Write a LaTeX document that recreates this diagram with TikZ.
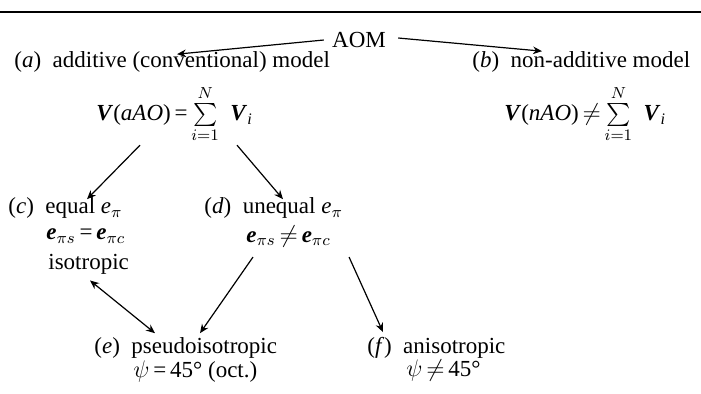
\documentclass[tikz,border=0pt]{standalone}
\usepackage{amsmath}
\usepackage{amssymb}
\usepackage{fontspec}
\setmainfont{Liberation Serif}
\usepackage{tikz}
\usetikzlibrary{positioning, arrows.meta, calc}

\newcommand{\bv}{\textbf{\textit{V}}}
\newcommand{\be}{\textbf{\textit{e}}}

\begin{document}
\begin{tikzpicture}[x=0.5pt, y=-0.5pt, font=\fontsize{11.5}{14}\selectfont,
    every node/.style={inner sep=1pt},
    lbl/.style={anchor=west},
    link/.style={-{Stealth[length=4.5pt, width=3.8pt]}, line width=0.6pt}]
    \useasboundingbox (0,0) rectangle (701,393);
    \draw[line width=0.9pt] (0,12) -- (701,12);
    \node (aom) at (359,40) {AOM};
    \node[lbl] (add) at (12,62) {(\textit{a})\enspace additive (conventional) model};
    \node[lbl] (nadd) at (470,62) {(\textit{b})\enspace non-additive model};
    \node[lbl] (vaao) at (94,114) {\bv(\textit{aAO})\,=\,$\sum\limits_{i=1}^{N}$\enspace\bv\textsubscript{\textit{i}}};
    \node[lbl] (vnao) at (502,114) {\bv(\textit{nAO})\,$\neq$\,$\sum\limits_{i=1}^{N}$\enspace\bv\textsubscript{\textit{i}}};
    \node[lbl] (eqc) at (6,208) {(\textit{c})\enspace equal \textit{e}$_{\pi}$};
    \node[lbl] (eqc2) at (44,236) {\be$_{\pi s}$\,=\,\be$_{\pi c}$};
    \node[lbl] (iso) at (46,264) {isotropic};
    \node[lbl] (uneqd) at (202,208) {(\textit{d})\enspace unequal \textit{e}$_{\pi}$};
    \node[lbl] (uneqd2) at (244,236) {\be$_{\pi s}$\,$\neq$\,\be$_{\pi c}$};
    \node[lbl] (pse) at (92,348) {(\textit{e})\enspace pseudoisotropic};
    \node[lbl] (pse2) at (131,372) {$\psi$\,=\,45° (oct.)};
    \node[lbl] (ani) at (365,348) {(\textit{f})\enspace anisotropic};
    \node[lbl] (ani2) at (404,370) {$\psi$\,$\neq$\,45°};
    \draw[link] ($(aom.west)+(-6,0)$) -- ($(add.north west)+(165,5)$);
    \draw[link] ($(aom.east)+(10,-2)$) -- ($(nadd.north west)+(72,2)$);
    \draw[link] ($(vaao.south west)+(46,0)$) -- ($(eqc.north west)+(81,4)$);
    \draw[link] ($(vaao.south west)+(143,0)$) -- ($(uneqd.north west)+(81,4)$);
    \draw[link, {Stealth[length=4.5pt, width=3.8pt]}-{Stealth[length=4.5pt, width=3.8pt]}] ($(iso.south west)+(44,4)$) -- ($(pse.north west)+(63,-2)$);
    \draw[link] ($(uneqd2.south west)+(9,8)$) -- ($(pse.north west)+(108,-2)$);
    \draw[link] ($(uneqd2.south east)+(16,8)$) -- ($(ani.north west)+(18,-3)$);
\end{tikzpicture}
\end{document}
